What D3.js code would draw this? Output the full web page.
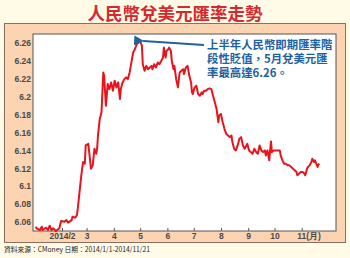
<!DOCTYPE html>
<html>
<head>
<meta charset="utf-8">
<script src="https://cdn.jsdelivr.net/npm/d3@7"></script>
<style>
  body { margin: 0; background: #fffbe6; }
  svg { display: block; }
</style>
</head>
<body>
<svg width="350" height="258"></svg>
<script>
// data
var dates = [
  "2014-01-02","2014-01-03","2014-01-07","2014-01-09","2014-01-10","2014-01-14","2014-01-16","2014-01-18","2014-01-20","2014-01-22","2014-01-25","2014-01-29","2014-01-31",
  "2014-02-04","2014-02-06","2014-02-08","2014-02-12","2014-02-13","2014-02-16","2014-02-18","2014-02-19","2014-02-21","2014-02-23","2014-02-25","2014-02-27","2014-02-28",
  "2014-03-03","2014-03-04","2014-03-06","2014-03-08","2014-03-10","2014-03-12","2014-03-13","2014-03-14","2014-03-16","2014-03-18","2014-03-20","2014-03-21","2014-03-23","2014-03-24","2014-03-25","2014-03-27","2014-03-29","2014-03-31",
  "2014-04-02","2014-04-04","2014-04-06","2014-04-08","2014-04-09","2014-04-11","2014-04-13","2014-04-15","2014-04-17","2014-04-19","2014-04-21","2014-04-23","2014-04-25","2014-04-27","2014-04-30",
  "2014-05-01","2014-05-03","2014-05-04","2014-05-06","2014-05-08","2014-05-10","2014-05-12","2014-05-14","2014-05-15","2014-05-17","2014-05-19","2014-05-21","2014-05-23","2014-05-25","2014-05-27","2014-05-28","2014-05-30","2014-05-31",
  "2014-06-02","2014-06-03","2014-06-05","2014-06-06","2014-06-08","2014-06-09","2014-06-11","2014-06-13","2014-06-15","2014-06-17","2014-06-19","2014-06-20","2014-06-22","2014-06-24","2014-06-26","2014-06-28","2014-06-29","2014-06-30",
  "2014-07-02","2014-07-04","2014-07-06","2014-07-08","2014-07-10","2014-07-11","2014-07-13","2014-07-15","2014-07-17","2014-07-19","2014-07-21","2014-07-23","2014-07-25","2014-07-27","2014-07-29","2014-07-30",
  "2014-08-01","2014-08-03","2014-08-05","2014-08-07","2014-08-09","2014-08-11","2014-08-13","2014-08-14","2014-08-16","2014-08-18","2014-08-20","2014-08-22","2014-08-24","2014-08-26","2014-08-28","2014-08-30","2014-08-31",
  "2014-09-02","2014-09-04","2014-09-06","2014-09-08","2014-09-10","2014-09-12","2014-09-14","2014-09-16","2014-09-18","2014-09-20","2014-09-21","2014-09-23","2014-09-25","2014-09-26","2014-09-27","2014-09-28","2014-09-30",
  "2014-10-03","2014-10-07","2014-10-08","2014-10-10","2014-10-12","2014-10-14","2014-10-16","2014-10-18","2014-10-20","2014-10-22","2014-10-24","2014-10-26","2014-10-27","2014-10-29","2014-10-31",
  "2014-11-02","2014-11-04","2014-11-05","2014-11-07","2014-11-08","2014-11-10","2014-11-12","2014-11-13","2014-11-15","2014-11-16","2014-11-18","2014-11-19","2014-11-20","2014-11-21"
];
var rates = [
  6.0548,6.0530,6.0511,6.0548,6.0511,6.0537,6.0511,6.0559,6.0511,6.0530,6.0500,6.0530,6.0611,
  6.0604,6.0622,6.0593,6.0622,6.0659,6.0648,6.0678,6.0752,6.0937,6.1122,6.1270,6.1252,6.1456,
  6.1474,6.1381,6.1196,6.1233,6.1419,6.1363,6.1419,6.1567,6.1752,6.1826,6.2270,6.2233,6.1900,6.2011,6.2141,6.2085,6.2159,6.2067,
  6.2178,6.2104,6.2159,6.1974,6.2085,6.2159,6.2196,6.2215,6.2196,6.2270,6.2381,6.2493,6.2530,6.2585,6.2611,
  6.2622,6.2567,6.2363,6.2289,6.2344,6.2307,6.2326,6.2344,6.2307,6.2363,6.2326,6.2381,6.2363,6.2400,6.2437,6.2548,6.2437,6.2511,
  6.2530,6.2548,6.2511,6.2400,6.2307,6.2344,6.2196,6.2104,6.2270,6.2289,6.2307,6.2252,6.2326,6.2344,6.2233,6.2159,6.2048,6.2030,
  6.2104,6.2122,6.2030,6.2011,6.2048,6.2030,6.2067,6.2067,6.2085,6.2093,6.2085,6.2011,6.1937,6.1863,6.1715,6.1789,
  6.1807,6.1715,6.1641,6.1585,6.1567,6.1548,6.1567,6.1493,6.1419,6.1400,6.1456,6.1530,6.1548,6.1456,6.1419,6.1456,6.1474,
  6.1400,6.1381,6.1363,6.1419,6.1381,6.1363,6.1456,6.1400,6.1381,6.1400,6.1344,6.1400,6.1289,6.1400,6.1500,6.1381,6.1400,
  6.1400,6.1400,6.1344,6.1289,6.1252,6.1252,6.1233,6.1233,6.1215,6.1196,6.1178,6.1159,6.1122,6.1141,6.1159,
  6.1159,6.1141,6.1122,6.1196,6.1215,6.1233,6.1270,6.1307,6.1270,6.1289,6.1241,6.1215,6.1241,6.1252
];
var yTicks = [6.06, 6.08, 6.1, 6.12, 6.14, 6.16, 6.18, 6.2, 6.22, 6.24, 6.26];
var monthTicks = ["2014-02-01","2014-03-01","2014-04-01","2014-05-01","2014-06-01","2014-07-01","2014-08-01","2014-09-01","2014-10-01","2014-11-01"];
var monthLabels = ["2014/2","3","4","5","6","7","8","9","10","11(月)"];
var title = "人民幣兌美元匯率走勢";
var note = ["上半年人民幣即期匯率階", "段性貶值，5月兌美元匯", "率最高達6.26。"];
var source = "資料來源：CMoney  日期：2014/1/1-2014/11/21";

var parse = d3.timeParse("%Y-%m-%d");
var data = dates.map((d, i) => ({date: parse(d), v: rates[i]}));

var svg = d3.select("svg");
var plotL = 33, plotT = 34, plotR = 336, plotB = 231;

var x = d3.scaleTime()
    .domain([parse("2013-12-30"), parse("2014-12-10")])
    .range([plotL, plotR]);
var y = d3.scaleLinear()
    .domain([6.05, 6.27])
    .range([plotB, plotT]);

// panels
svg.append("rect")
    .attr("x", 4.5).attr("y", 23.5)
    .attr("width", 341).attr("height", 219)
    .attr("fill", "#fcd4b2")
    .attr("stroke", "#8c6f60");
svg.append("rect")
    .attr("x", plotL).attr("y", plotT)
    .attr("width", plotR - plotL).attr("height", plotB - plotT)
    .attr("fill", "#fff")
    .attr("stroke", "#555");

svg.append("text")
    .attr("x", 175).attr("y", 20)
    .attr("text-anchor", "middle")
    .attr("font-family", "'Noto Sans CJK TC'")
    .attr("font-weight", "bold")
    .attr("font-size", 17.5)
    .attr("fill", "#d42a2f")
    .text(title);

// y axis labels
svg.append("g")
    .attr("transform", `translate(${plotL},0)`)
    .call(d3.axisLeft(y).tickValues(yTicks).tickSize(0).tickPadding(2).tickFormat(d3.format("")))
    .call(g => g.select(".domain").remove())
    .selectAll("text")
    .attr("font-family", "'Liberation Sans', Arial")
    .attr("font-weight", "bold")
    .attr("font-size", 8.5)
    .attr("fill", "#4a4a4a");

// x axis
var xAxis = svg.append("g")
    .attr("transform", `translate(0,${plotB})`)
    .call(d3.axisBottom(x).tickValues(monthTicks.map(parse)).tickSizeInner(-3).tickSizeOuter(0).tickPadding(2)
      .tickFormat((d, i) => monthLabels[i]));
xAxis.select(".domain").remove();
xAxis.selectAll("line").attr("stroke", "#555");
xAxis.selectAll("text")
    .attr("font-family", "'Liberation Sans', Arial")
    .attr("font-weight", "bold")
    .attr("font-size", 8.5)
    .attr("fill", "#4a4a4a")
    .attr("text-anchor", (d, i) => i == monthLabels.length - 1 ? "start" : "middle")
    .attr("dx", (d, i) => i == monthLabels.length - 1 ? -5 : 0);

// line
var line = d3.line().x(d => x(d.date)).y(d => y(d.v));
svg.append("path")
    .datum(data)
    .attr("fill", "none")
    .attr("stroke", "#e8141c")
    .attr("stroke-width", 2)
    .attr("stroke-linejoin", "round")
    .attr("d", line);

// annotation arrow to peak
var peak = data.reduce((a, b) => b.v > a.v ? b : a);
svg.append("defs").append("marker")
    .attr("id", "head")
    .attr("viewBox", "0 0 10 10")
    .attr("refX", 1).attr("refY", 5)
    .attr("markerWidth", 5).attr("markerHeight", 5)
    .attr("orient", "auto-start-reverse")
    .append("path")
    .attr("d", "M0,5L10,0L10,10Z")
    .attr("fill", "#1e62a0");
svg.append("line")
    .attr("x1", x(peak.date) + 3).attr("y1", y(peak.v))
    .attr("x2", 204).attr("y2", 45)
    .attr("stroke", "#1e62a0")
    .attr("stroke-width", 2)
    .attr("marker-start", "url(#head)");

svg.append("g").selectAll("text")
  .data(note)
  .join("text")
    .attr("x", 207)
    .attr("y", (d, i) => 49 + i * 14)
    .attr("font-family", "'Noto Sans CJK TC'")
    .attr("font-weight", "bold")
    .attr("font-size", 11.4)
    .attr("fill", "#1e62a0")
    .text(d => d);

svg.append("text")
    .attr("x", 4).attr("y", 252)
    .attr("font-family", "'Noto Sans CJK TC'")
    .attr("font-size", 7)
    .attr("textLength", 146)
    .attr("lengthAdjust", "spacingAndGlyphs")
    .attr("fill", "#222")
    .text(source);
</script>
</body>
</html>
